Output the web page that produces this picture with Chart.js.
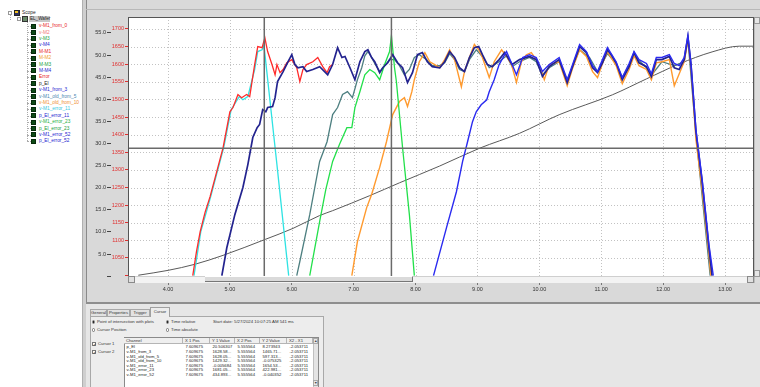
<!DOCTYPE html>
<html><head><meta charset="utf-8">
<script src="https://cdn.jsdelivr.net/npm/chart.js@4/dist/chart.umd.min.js"></script>
<style>
body{margin:0;width:760px;height:387px;overflow:hidden;background:#d9d9d9;position:relative;font-family:"Liberation Sans",Arial,sans-serif;}
.a{position:absolute;white-space:nowrap;box-sizing:border-box;}
</style></head><body>
<div class="a" style="left:0;top:0;width:82px;height:387px;background:#fff;"></div>
<div class="a" style="left:82px;top:0;width:4px;height:387px;background:#cfcfcf;border-left:1px solid #b0b0b0;"></div>
<div class="a" style="left:86px;top:0;width:674px;height:302px;background:#d9d9d9;border-left:1px solid #8a8a8a;"></div>
<div class="a" style="left:86px;top:9px;width:674px;height:1px;background:#b8b8b8;"></div>
<canvas id="c" class="a" width="674" height="292" style="left:86px;top:8px;"></canvas>
<script>
// ---- data (x in s, y in rpm on the red axis, p_El on the black axis) ----
const redX = [4.40,4.46,4.52,4.60,4.68,4.78,4.89,5.00,5.05,5.13,5.19,5.27,5.32,5.40,5.45,5.52,5.565,5.61,5.68,5.73,5.76,5.81,5.86,5.92,6.00,6.08,6.13,6.18,6.24,6.34,6.42,6.50,6.57,6.61,6.66];
const redY = [1000,1068,1125,1180,1224,1290,1363,1465,1477,1514,1505,1514,1508,1599,1650,1647,1675,1636,1599,1570,1599,1576,1585,1604,1613,1590,1551,1585,1599,1607,1619,1593,1576,1593,1599];
const cyanX = [4.42,4.53,4.69,4.90,5.02,5.07,5.15,5.21,5.29,5.40,5.45,5.52,5.55,5.76,5.95];
const cyanY = [1000,1125,1224,1363,1471,1485,1508,1499,1508,1585,1636,1641,1654,1315,1000];
const navyX = [4.87,4.95,5.08,5.21,5.29,5.37,5.44,5.48,5.53,5.58,5.61,5.69,5.73,5.77,5.86,5.94,6.00,6.05,6.10,6.18,6.24,6.34,6.45,6.53,6.58,6.66,6.74,6.81,6.86,6.94,7.02,7.10,7.18,7.23,7.29,7.34,7.42,7.47,7.55,7.63,7.71,7.79,7.87,7.95,8.03,8.11,8.19,8.27,8.39,8.47,8.55,8.63,8.71,8.79,8.87,8.95,9.02,9.08,9.16,9.24,9.35,9.44,9.56,9.68,9.84,9.95,10.05,10.16,10.32,10.45,10.53,10.65,10.76,10.86,10.94,11.02,11.10,11.16,11.24,11.34,11.45,11.53,11.61,11.73,11.81,11.89,11.98,12.10,12.18,12.26,12.34,12.40,12.45,12.53,12.63,12.74,12.79];
const navyY = [1000,1079,1173,1250,1315,1392,1420,1429,1471,1465,1477,1480,1505,1551,1579,1607,1627,1599,1590,1593,1579,1585,1593,1579,1570,1599,1647,1619,1622,1590,1556,1607,1636,1641,1619,1607,1576,1590,1604,1627,1604,1590,1548,1576,1627,1633,1607,1593,1590,1607,1636,1619,1590,1579,1619,1647,1650,1627,1599,1593,1613,1633,1599,1613,1622,1613,1565,1593,1613,1548,1590,1650,1633,1590,1576,1604,1641,1627,1604,1556,1593,1633,1604,1593,1565,1613,1613,1622,1590,1585,1613,1678,1599,1409,1267,1079,1000];
const tealX = [6.08,6.13,6.29,6.45,6.57,6.66,6.74,6.82,6.90,6.98,7.06,7.13,7.18,7.23,7.29,7.34,7.42,7.50,7.58,7.66,7.74,7.82,7.90,7.98,8.06,8.18,8.27,8.39,8.47,8.55,8.63,8.71,8.79,8.87,8.98,9.08,9.19,9.35,9.47,9.56,9.68,9.84,9.95,10.05,10.16,10.32,10.45,10.53,10.65,10.81,10.94,11.10,11.24,11.34,11.53,11.73,11.81,11.98,12.18,12.34,12.40,12.53,12.76];
const tealY = [1000,1040,1173,1324,1380,1457,1477,1514,1522,1505,1556,1590,1624,1636,1619,1602,1579,1596,1613,1613,1596,1570,1585,1619,1627,1613,1596,1596,1604,1630,1613,1585,1579,1613,1641,1622,1590,1607,1624,1593,1607,1619,1607,1570,1590,1607,1556,1590,1641,1619,1579,1630,1602,1562,1624,1590,1568,1607,1596,1607,1670,1400,1000];
const greenX = [6.29,6.45,6.55,6.66,6.77,6.89,6.97,7.02,7.10,7.18,7.26,7.34,7.42,7.50,7.58,7.61,7.66,7.69,7.79,7.90,7.98];
const greenY = [1000,1153,1245,1324,1372,1420,1420,1477,1522,1570,1585,1576,1556,1599,1636,1681,1590,1551,1363,1173,1000];
const orangeX = [6.97,7.06,7.21,7.29,7.42,7.53,7.63,7.74,7.82,7.87,7.94,7.98,8.06,8.15,8.23,8.31,8.39,8.47,8.55,8.63,8.74,8.79,8.87,8.95,9.02,9.08,9.19,9.27,9.39,9.47,9.55,9.63,9.71,9.79,9.87,9.95,10.03,10.08,10.16,10.32,10.45,10.53,10.65,10.76,10.86,10.94,11.02,11.10,11.16,11.24,11.34,11.45,11.53,11.61,11.73,11.81,11.89,11.98,12.10,12.18,12.26,12.34,12.40,12.45,12.53,12.63,12.74,12.77];
const orangeY = [1000,1096,1193,1230,1307,1380,1457,1494,1505,1480,1522,1556,1607,1633,1607,1599,1590,1613,1641,1613,1536,1579,1619,1656,1641,1619,1562,1607,1641,1622,1599,1548,1607,1627,1633,1613,1585,1556,1599,1607,1539,1585,1641,1622,1579,1562,1602,1636,1619,1596,1545,1585,1624,1596,1585,1556,1604,1607,1613,1539,1573,1607,1670,1590,1386,1244,1060,1000];
const blueX = [8.29,8.50,8.66,8.76,8.84,8.92,8.98,9.06,9.15,9.19,9.27,9.35,9.44,9.47,9.56,9.63,9.73,9.84,9.95,10.05,10.16,10.32,10.45,10.53,10.65,10.76,10.86,10.94,11.02,11.10,11.16,11.24,11.34,11.45,11.53,11.61,11.73,11.81,11.89,11.98,12.10,12.18,12.26,12.34,12.40,12.45,12.53,12.63,12.74,12.81];
const blueY = [1000,1136,1238,1324,1380,1437,1465,1485,1499,1522,1556,1599,1627,1636,1599,1570,1619,1627,1619,1579,1599,1619,1556,1596,1656,1636,1596,1579,1613,1647,1630,1607,1562,1602,1636,1613,1602,1573,1619,1619,1627,1602,1596,1619,1681,1602,1414,1273,1088,1000];
const pelX = [3.52,4.00,4.44,4.89,5.57,6.02,6.45,6.66,7.26,7.74,8.39,9.03,9.68,10.32,11.18,11.73,12.26,12.79,13.23,13.47];
const pelY = [0.2,1.3,2.7,4.7,8.3,10.8,13.7,14.8,18.2,21.1,24.9,28.9,32.3,36.5,41.0,44.6,48.0,50.7,52.0,52.0];
const cursorX = [5.555564, 7.609675];
const cursorY = 28.9;
const xTicks = {min:3.3537, max:13.468, step:1};
const rpmAxis = {min:996, max:1734, step:50};
const pAxis = {min:-0.2, max:58.6, step:5};

const pts = (xs, ys) => xs.map((x, i) => ({x, y: ys[i]}));
const ds = (xs, ys, color, axis, w) => ({data: pts(xs, ys), borderColor: color, borderWidth: w || 1.3, pointRadius: 0, yAxisID: axis, tension: 0, fill: false});

const deco = {
  id: 'deco',
  beforeDraw(chart) {
    const {ctx, chartArea: a} = chart;
    ctx.save(); ctx.fillStyle = '#fff'; ctx.fillRect(a.left, a.top, a.right - a.left, a.bottom - a.top); ctx.restore();
  },
  beforeDatasetsDraw(chart) {
    const {ctx, chartArea: a, scales} = chart;
    ctx.save(); ctx.strokeStyle = '#c2c2c2'; ctx.lineWidth = 1; ctx.setLineDash([1, 2]);
    scales.x.ticks.forEach(t => { const p = Math.round(scales.x.getPixelForValue(t.value)) + 0.5; ctx.beginPath(); ctx.moveTo(p, a.top); ctx.lineTo(p, a.bottom); ctx.stroke(); });
    scales.yr.ticks.forEach(t => { const p = Math.round(scales.yr.getPixelForValue(t.value)) + 0.5; if (p > a.bottom - 2) return; ctx.beginPath(); ctx.moveTo(a.left, p); ctx.lineTo(a.right, p); ctx.stroke(); });
    ctx.restore();
  },
  afterDatasetsDraw(chart) {
    const {ctx, chartArea: a, scales} = chart;
    ctx.save(); ctx.strokeStyle = '#6a6a6a'; ctx.lineWidth = 1.5;
    cursorX.forEach(v => { const p = scales.x.getPixelForValue(v); ctx.beginPath(); ctx.moveTo(p, a.top); ctx.lineTo(p, a.bottom); ctx.stroke(); });
    const py = scales.yl.getPixelForValue(cursorY);
    ctx.beginPath(); ctx.moveTo(a.left, py); ctx.lineTo(a.right, py); ctx.stroke();
    ctx.strokeStyle = '#555'; ctx.lineWidth = 1;
    ctx.strokeRect(a.left + 0.5, a.top + 0.5, a.right - a.left - 1, a.bottom - a.top - 1);
    ctx.restore();
  }
};

new Chart(document.getElementById('c'), {
  type: 'line',
  data: {datasets: [
    ds(blueX, blueY, '#2a2af0', 'yr', 1.4),
    ds(navyX, navyY, '#23238f', 'yr', 1.7),
    ds(greenX, greenY, '#22e04a', 'yr'),
    ds(orangeX, orangeY, '#ff9a2e', 'yr', 1.4),
    ds(tealX, tealY, '#4d7f80', 'yr'),
    ds(redX, redY, '#ff2a2a', 'yr'),
    ds(cyanX, cyanY, '#2fe3e3', 'yr'),
    Object.assign(ds(pelX, pelY, '#5a5a5a', 'yl', 1), {cubicInterpolationMode: 'monotone'})
  ]},
  plugins: [deco],
  options: {
    animation: false, responsive: false, devicePixelRatio: 1,
    layout: {padding: {top: 9, right: 6, left: 0, bottom: 0}},
    plugins: {legend: {display: false}, tooltip: {enabled: false}},
    scales: {
      x: {type: 'linear', min: xTicks.min, max: xTicks.max,
        ticks: {stepSize: xTicks.step, includeBounds: false, autoSkip: false, maxRotation: 0, padding: 1, color: '#333', font: {size: 5.5, family: 'Liberation Sans'}, callback: v => Number(v).toFixed(2)},
        grid: {drawOnChartArea: false, tickLength: 8, color: '#777'}, border: {display: false},
        afterFit: s => { s.height = 23; }},
      yr: {type: 'linear', position: 'left', weight: 0, min: rpmAxis.min, max: rpmAxis.max,
        ticks: {stepSize: rpmAxis.step, includeBounds: false, padding: 1, color: '#e03030', font: {size: 5.5, family: 'Liberation Sans'}, callback: v => v <= 1000 ? '' : String(v)},
        grid: {drawOnChartArea: false, tickLength: 3, color: '#e03030'}, border: {display: false},
        afterFit: s => { s.width = 17; }},
      yl: {type: 'linear', position: 'left', weight: 1, min: pAxis.min, max: pAxis.max,
        ticks: {stepSize: pAxis.step, includeBounds: false, padding: 1, color: '#333', font: {size: 5.5, family: 'Liberation Sans'}, callback: v => v <= 0.01 ? '' : Number(v).toFixed(1)},
        grid: {drawOnChartArea: false, tickLength: 4, color: '#444'}, border: {display: false},
        afterFit: s => { s.width = 25; }}
    }
  }
});

// ---- UI chrome ----
function el(css, text) { const e = document.createElement('div'); e.className = 'a'; e.style.cssText += css; if (text != null) e.textContent = text; document.body.appendChild(e); return e; }
function txt(x, y, s, size, color, extra) { return el(`left:${x}px;top:${y - size * 0.6}px;font-size:${size}px;line-height:${size * 1.2}px;color:${color};${extra || ''}`, s); }

// scrollbars
el('left:128px;top:276px;width:626px;height:7px;background:#f3f3f3;border-top:1px solid #cfcfcf;');
el('left:128px;top:276px;width:7px;height:7px;background:#e0e0e0;border:1px solid #8a8a8a;');
el('left:205px;top:276px;width:208px;height:6px;background:#dadada;border-right:1px solid #777;border-bottom:1px solid #777;border-top:1px solid #fff;');
el('left:747px;top:276px;width:7px;height:7px;background:#e0e0e0;border:1px solid #8a8a8a;');
el('left:754px;top:17px;width:6px;height:266px;background:#dcdcdc;border-left:1px solid #bdbdbd;');
el('left:754px;top:17px;width:6px;height:7px;background:#e6e6e6;border:1px solid #999;');
el('left:754px;top:270px;width:6px;height:7px;background:#e6e6e6;border:1px solid #999;');

// tree
const treeNames = ['v-M1_from_0','v-M2','v-M3','v-M4','M-M1','M-M2','M-M3','M-M4','Error','p_El','v-M1_from_3','v-M1_old_from_5','v-M1_old_from_10','v-M1_error_11','p_El_error_11','v-M1_error_23','p_El_error_23','v-M1_error_52','p_El_error_52'];
const treeColors = ['#e82525','#f07878','#22a040','#2525d0','#e82525','#f0a030','#22a040','#2525d0','#e82525','#222','#2525d0','#4a88b0','#f09030','#35c8e0','#2525d0','#22b040','#22a040','#2525d0','#2525d0'];
el('left:8px;top:11px;width:4px;height:4px;border:1px solid #999;background:#fff;');
el('left:14px;top:10px;width:6px;height:6px;background:#303060;border:1px solid #222;');
el('left:15px;top:11px;width:3px;height:2px;background:#f0c020;');
txt(22, 13, 'Scope', 4.8, '#222');
el('left:10px;top:15px;width:1px;height:5px;border-left:1px dotted #aaa;');
el('left:17px;top:17px;width:4px;height:4px;border:1px solid #999;background:#fff;');
el('left:22px;top:16px;width:6px;height:6px;background:#6a8a6a;border:1px solid #333;');
el('left:29px;top:16px;width:21px;height:6px;background:#c8c8c8;');
txt(30, 19, 'EL_Wafer', 4.6, '#222');
el('left:27px;top:22px;width:1px;height:119px;border-left:1px dotted #aaa;');
treeNames.forEach((n, i) => {
  const y = 26 + i * 6.4;
  el(`left:27px;top:${y}px;width:4px;height:1px;border-top:1px dotted #aaa;`);
  el(`left:31px;top:${y - 2.5}px;width:5px;height:5px;background:#0e4a16;border:1px solid #062a0a;`);
  txt(39, y, n, 4.8, treeColors[i]);
});

// x-axis area end / bottom panel
el('left:86px;top:302px;width:674px;height:2px;background:#8e8e8e;');
el('left:86px;top:304px;width:674px;height:83px;background:#e6e6e6;');
el('left:90px;top:316px;width:234px;height:75px;border:1px solid #a8a8a8;background:#ededed;');
const tabs = [['General', 90, 17], ['Properties', 107, 23], ['Trigger', 130, 20]];
tabs.forEach(t => { el(`left:${t[1]}px;top:309px;width:${t[2]}px;height:7px;border:1px solid #a8a8a8;border-bottom:none;background:#e2e2e2;font-size:4.2px;line-height:6px;text-align:center;color:#333;`, t[0]); });
el('left:150px;top:307px;width:20px;height:10px;border:1px solid #a0a0a0;border-bottom:none;background:#ededed;font-size:4.2px;line-height:8px;text-align:center;color:#333;', 'Cursor');

function radio(x, y, on) { el(`left:${x}px;top:${y - 1.7}px;width:3.4px;height:3.4px;border-radius:50%;border:0.6px solid #777;background:${on ? 'radial-gradient(#222 35%,#fff 45%)' : '#fff'};`); }
function check(x, y) { el(`left:${x}px;top:${y - 2}px;width:4px;height:4px;border:0.6px solid #777;background:#fff;font-size:4px;line-height:4px;text-align:center;color:#222;`, '✓'); }
radio(92, 322, true); txt(97, 322, 'Point of intersection with plots', 4.3, '#333');
radio(92, 330, false); txt(97, 330, 'Cursor Position', 4.3, '#333');
radio(166, 322, true); txt(171, 322, 'Time relative', 4.3, '#333');
radio(166, 330, false); txt(171, 330, 'Time absolute', 4.3, '#333');
txt(213, 322, 'Start date: 5/27/2024 10:07:25 AM 541 ms', 4.3, '#333');
check(92, 344); txt(98, 344, 'Cursor 1', 4.3, '#333');
check(92, 352); txt(98, 352, 'Cursor 2', 4.3, '#333');

// cursor table
el('left:124px;top:337px;width:195px;height:55px;background:#fff;border:1px solid #8a8a8a;');
const colHead = ['Channel', 'X 1 Pos', 'Y 1 Value', 'X 2 Pos', 'Y 2 Value', 'X2 - X1'];
const colX = [124, 183, 210, 235, 260, 287, 313];
colHead.forEach((h, i) => {
  el(`left:${colX[i]}px;top:338px;width:${colX[i + 1] - colX[i]}px;height:6px;background:#efefef;border-right:1px solid #b5b5b5;border-bottom:1px solid #b5b5b5;font-size:4.2px;line-height:6px;padding-left:2px;color:#333;`, h);
});
el('left:313px;top:338px;width:5px;height:6px;background:#e8e8e8;border:1px solid #aaa;font-size:3.5px;line-height:5px;text-align:center;color:#444;', '▲');
el('left:313px;top:344px;width:5px;height:43px;background:#e4e4e4;border-left:1px solid #c0c0c0;');
el('left:313px;top:380px;width:5px;height:6px;background:#e8e8e8;border:1px solid #aaa;font-size:3.5px;line-height:5px;text-align:center;color:#444;', '▼');
const tableRows = [
  ['p_El', '7.609675', '20.506307', '5.555564', '8.273943', '-2.053711'],
  ['v-M1_from_3', '7.609675', '1628.58...', '5.555564', '1465.71...', '-2.053711'],
  ['v-M1_old_from_5', '7.609675', '1628.05...', '5.555564', '597.313...', '-2.053711'],
  ['v-M1_old_from_10', '7.609675', '1429.32...', '5.555564', '-0.075325', '-2.053711'],
  ['v-M1_error_11', '7.609675', '-0.005684', '5.555564', '1654.53...', '-2.053711'],
  ['v-M1_error_23', '7.609675', '1681.05...', '5.555564', '422.981...', '-2.053711'],
  ['v-M1_error_52', '7.609675', '434.893...', '5.555564', '-0.040352', '-2.053711']
];
tableRows.forEach((r, j) => {
  const y = 347 + j * 4.55;
  r.forEach((c, i) => txt(colX[i] + 2.5, y, c, 4.2, '#222'));
});
</script>
</body></html>
